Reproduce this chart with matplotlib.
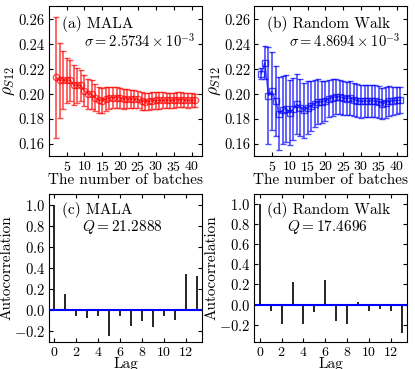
import numpy as np
import matplotlib
matplotlib.use("Agg")
import matplotlib.pyplot as plt

plt.rcParams["font.family"] = "serif"
plt.rcParams["font.serif"] = ["cmr10", "DejaVu Serif"]
plt.rcParams["mathtext.fontset"] = "cm"
plt.rcParams["axes.formatter.use_mathtext"] = True
plt.rcParams["font.size"] = 11

# --- batch estimates (panels a, b) ---
batches = np.arange(2, 42)

mala_rho = [0.2134, 0.2112, 0.2112, 0.2112, 0.2110, 0.2072, 0.2072, 0.2070, 0.2027, 0.2005,
            0.1998, 0.1973, 0.1952, 0.1946, 0.1962, 0.1970, 0.1973, 0.1973, 0.1968, 0.1962,
            0.1962, 0.1960, 0.1960, 0.1958, 0.1945, 0.1940, 0.1942, 0.1948, 0.1950, 0.1950,
            0.1950, 0.1950, 0.1950, 0.1952, 0.1955, 0.1956, 0.1954, 0.1950, 0.1950, 0.1950]
mala_err = [0.0485, 0.0300, 0.0230, 0.0180, 0.0165, 0.0160, 0.0140, 0.0125, 0.0125, 0.0120,
            0.0114, 0.0107, 0.0102, 0.0100, 0.0095, 0.0090, 0.0087, 0.0084, 0.0080, 0.0078,
            0.0076, 0.0074, 0.0072, 0.0071, 0.0070, 0.0069, 0.0068, 0.0067, 0.0066, 0.0065,
            0.0064, 0.0063, 0.0062, 0.0061, 0.0060, 0.0059, 0.0058, 0.0057, 0.0056, 0.0055]

rw_rho = [0.2165, 0.2253, 0.1987, 0.2024, 0.1944, 0.1845, 0.1872, 0.1885, 0.1851, 0.1880,
          0.1920, 0.1893, 0.1872, 0.1893, 0.1904, 0.1925, 0.1939, 0.1939, 0.1944, 0.1965,
          0.1973, 0.1979, 0.1979, 0.1970, 0.1965, 0.1970, 0.1957, 0.1947, 0.1944, 0.1944,
          0.1944, 0.1947, 0.1944, 0.1939, 0.1925, 0.1933, 0.1944, 0.1947, 0.1950, 0.1952]
rw_err = [0.0045, 0.0134, 0.0387, 0.0310, 0.0280, 0.0294, 0.0270, 0.0265, 0.0260, 0.0250,
          0.0240, 0.0230, 0.0220, 0.0210, 0.0200, 0.0190, 0.0180, 0.0170, 0.0160, 0.0150,
          0.0145, 0.0140, 0.0138, 0.0136, 0.0135, 0.0134, 0.0133, 0.0132, 0.0131, 0.0130,
          0.0130, 0.0129, 0.0128, 0.0127, 0.0125, 0.0122, 0.0118, 0.0114, 0.0110, 0.0105]

# --- autocorrelation (panels c, d) ---
lags = np.arange(0, 14)
mala_acf = [1.0, 0.156, -0.053, -0.080, -0.053, -0.250, -0.060, -0.147, -0.100, -0.160,
            -0.056, -0.094, 0.338, 0.320]
rw_acf = [1.0, -0.060, -0.196, 0.226, -0.190, -0.073, 0.240, -0.163, -0.193, 0.030,
          -0.066, -0.047, -0.063, -0.282]

fig = plt.figure(figsize=(4.15, 3.69), dpi=100)
ax_a = fig.add_axes([0.118, 0.577, 0.369, 0.407])
ax_b = fig.add_axes([0.613, 0.577, 0.368, 0.407])
ax_c = fig.add_axes([0.118, 0.074, 0.369, 0.400])
ax_d = fig.add_axes([0.613, 0.074, 0.368, 0.400])


def style(ax):
    ax.tick_params(direction="in", top=True, right=True, length=3, labelsize=10.5, pad=3)
    ax.tick_params(axis="x", labelsize=10)


for ax, y, e, col, mk, lab, sig in [
    (ax_a, mala_rho, mala_err, "red", "o", "(a) MALA", r"$\sigma = 2.5734 \times 10^{-3}$"),
    (ax_b, rw_rho, rw_err, "blue", "s", "(b) Random Walk", r"$\sigma = 4.8694 \times 10^{-3}$"),
]:
    ax.errorbar(batches, y, yerr=e, fmt="-" + mk, color=col, mfc="none", ms=4.5,
                lw=1.0, elinewidth=1.2, capsize=2.2, alpha=0.7)
    ax.set_xlim(0.05, 42.95)
    ax.set_ylim(0.1504, 0.2707)
    ax.set_xticks([5, 10, 15, 20, 25, 30, 35, 40])
    ax.set_yticks([0.16, 0.18, 0.20, 0.22, 0.24, 0.26])
    ax.set_yticklabels(["0.16", "0.18", "0.20", "0.22", "0.24", "0.26"])
    ax.set_xlabel("The number of batches", labelpad=-1)
    ax.set_ylabel(r"$\rho_{S12}$", labelpad=1, fontsize=12.5)
    ax.text(0.085, 0.878, lab, transform=ax.transAxes, va="center", ha="left", fontsize=11)
    ax.text(0.955, 0.765, sig, transform=ax.transAxes, va="center", ha="right", fontsize=10.5)
    style(ax)

for ax, acf, lab, q, ylim in [
    (ax_c, mala_acf, "(c) MALA", r"$Q = 21.2888$", (-0.3, 1.1)),
    (ax_d, rw_acf, "(d) Random Walk", r"$Q = 17.4696$", (-0.37, 1.1)),
]:
    ax.vlines(lags, 0, acf, color="black", lw=1.2)
    ax.axhline(0, color="blue", lw=1.5)
    ax.set_xlim(-0.5, 13.5)
    ax.set_ylim(*ylim)
    ax.set_xticks([0, 2, 4, 6, 8, 10, 12])
    ax.set_yticks([-0.2, 0.0, 0.2, 0.4, 0.6, 0.8, 1.0])
    ax.set_xlabel("Lag", labelpad=-1)
    ax.set_ylabel("Autocorrelation", labelpad=0)
    ax.text(0.085, 0.89, lab, transform=ax.transAxes, va="center", ha="left", fontsize=11)
    ax.text(0.215, 0.78, q, transform=ax.transAxes, va="center", ha="left", fontsize=11)
    style(ax)

fig.savefig("out.png", dpi=100)
